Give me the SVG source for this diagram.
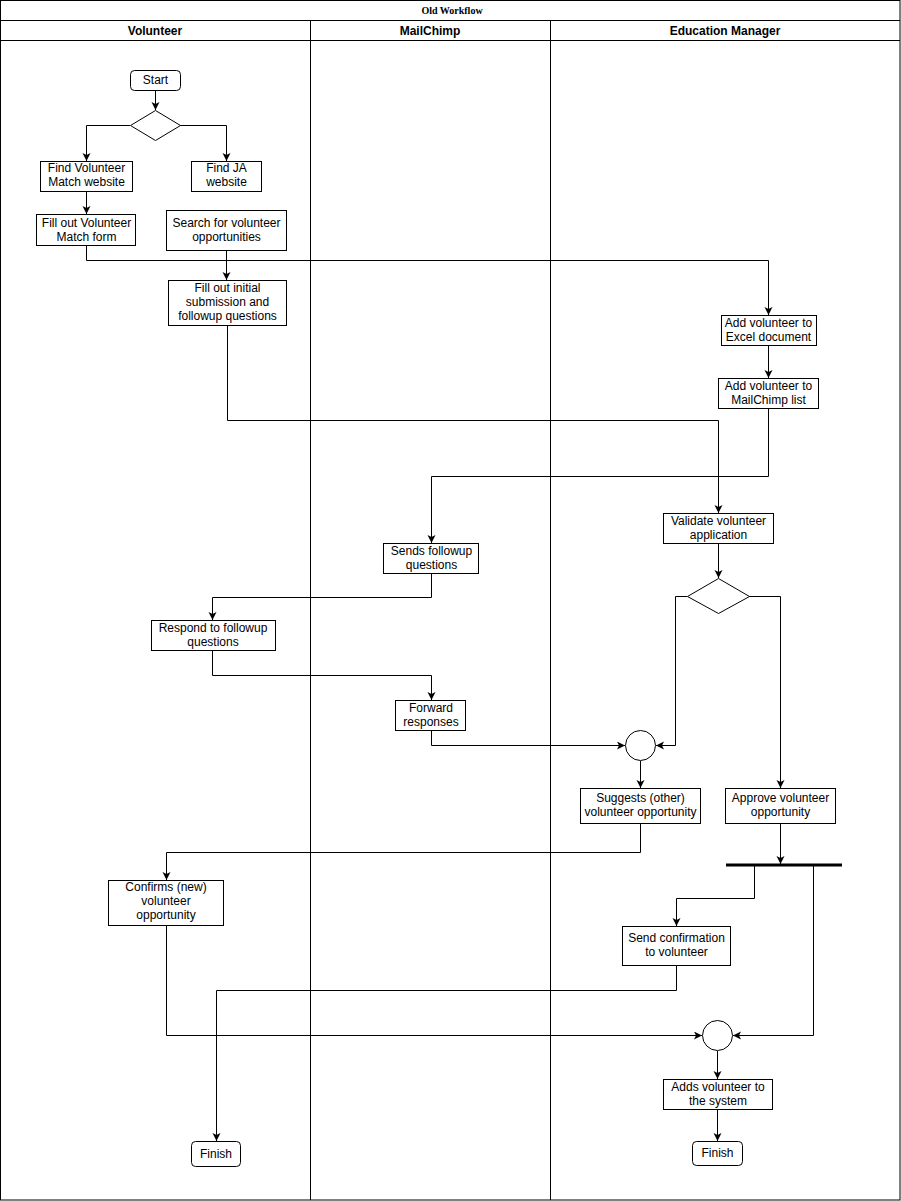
<svg xmlns="http://www.w3.org/2000/svg" width="901" height="1201" viewBox="0 0 901 1201">
<defs>
<marker id="arr" markerUnits="userSpaceOnUse" markerWidth="10" markerHeight="10" refX="8" refY="4" orient="auto">
<path d="M0,0 L8,4 L0,8 L2,4 Z" fill="#000"/>
</marker>
<style>
.box{fill:#fff;stroke:#000;stroke-width:1}
.t{font-family:"Liberation Sans",Arial,sans-serif;font-size:12px;fill:#000;text-anchor:middle}
.h{font-family:"Liberation Sans",Arial,sans-serif;font-size:12px;font-weight:bold;fill:#000;text-anchor:middle}
.ttl{font-family:"Liberation Serif","Times New Roman",serif;font-size:10px;font-weight:bold;fill:#000;text-anchor:middle}
.c{fill:none;stroke:#000;stroke-width:1;marker-end:url(#arr)}
.lane{fill:none;stroke:#000;stroke-width:1}
</style>
</defs>
<rect width="901" height="1201" fill="#fff"/>
<g id="pool">
<rect class="lane" x="0.5" y="0.5" width="899.5" height="1199.5"/>
<line class="lane" x1="0.5" y1="20.5" x2="900" y2="20.5"/>
<line class="lane" x1="0.5" y1="40.5" x2="900" y2="40.5"/>
<line class="lane" x1="310.5" y1="20.5" x2="310.5" y2="1200"/>
<line class="lane" x1="550.5" y1="20.5" x2="550.5" y2="1200"/>
<text class="ttl" x="452" y="14">Old Workflow</text>
<text class="h" x="155" y="35">Volunteer</text>
<text class="h" x="430" y="35">MailChimp</text>
<text class="h" x="725" y="35">Education Manager</text>
</g>
<g id="connectors">
<path class="c" d="M155.5,90 V110"/>
<path class="c" d="M130,125.5 H86.5 V161"/>
<path class="c" d="M180,125.5 H226.5 V161"/>
<path class="c" d="M86.5,191 V214"/>
<path class="c" d="M86.5,245 V260.5 H768.5 V315"/>
<path class="c" d="M226.5,251 V280"/>
<path class="c" d="M227.5,325 V420.5 H718.5 V513"/>
<path class="c" d="M768.5,345 V378"/>
<path class="c" d="M768.5,408 V476.5 H431.5 V543"/>
<path class="c" d="M718.5,543 V578"/>
<path class="c" d="M749,596.5 H780.5 V788"/>
<path class="c" d="M687,596.5 H675.5 V745.5 H656"/>
<path class="c" d="M431.5,573 V597.5 H212.5 V620"/>
<path class="c" d="M212.5,650 V675.5 H431.5 V700"/>
<path class="c" d="M431.5,730 V745.5 H625"/>
<path class="c" d="M640.5,761 V788"/>
<path class="c" d="M640.5,823 V852.5 H166.5 V880"/>
<path class="c" d="M780.5,823 V864"/>
<path class="c" d="M754.5,866 V898.5 H676.5 V926"/>
<path class="c" d="M813.5,866 V1035.5 H733"/>
<path class="c" d="M676.5,965 V990.5 H216.5 V1141"/>
<path class="c" d="M166.5,925 V1035.5 H702"/>
<path class="c" d="M717.5,1051 V1079"/>
<path class="c" d="M717.5,1109 V1141"/>
</g>
<g id="start"><rect class="box" x="130.5" y="70.5" width="50" height="20" rx="4"/><text class="t" x="155.5" y="84">Start</text></g>
<g id="decision1"><path class="box" d="M155.5,110.5 L180.5,125.5 L155.5,140.5 L130.5,125.5 Z"/></g>
<g id="findVM"><rect class="box" x="40.5" y="161.5" width="92" height="30"/><text class="t" x="86.5" y="172">Find Volunteer</text><text class="t" x="86.5" y="186">Match website</text></g>
<g id="findJA"><rect class="box" x="191.5" y="161.5" width="70" height="30"/><text class="t" x="226.5" y="172">Find JA</text><text class="t" x="226.5" y="186">website</text></g>
<g id="fillVM"><rect class="box" x="36.5" y="214.5" width="99" height="31"/><text class="t" x="86.5" y="227">Fill out Volunteer</text><text class="t" x="86.5" y="241">Match form</text></g>
<g id="search"><rect class="box" x="166.5" y="210.5" width="120" height="40"/><text class="t" x="226.5" y="227">Search for volunteer</text><text class="t" x="226.5" y="241">opportunities</text></g>
<g id="fillInitial"><rect class="box" x="168.5" y="280.5" width="118" height="45"/><text class="t" x="227.5" y="292">Fill out initial</text><text class="t" x="227.5" y="306">submission and</text><text class="t" x="227.5" y="320">followup questions</text></g>
<g id="excel"><rect class="box" x="721.5" y="315.5" width="95" height="30"/><text class="t" x="768.5" y="327">Add volunteer to</text><text class="t" x="768.5" y="341">Excel document</text></g>
<g id="mclist"><rect class="box" x="718.5" y="378.5" width="100" height="30"/><text class="t" x="768.5" y="390">Add volunteer to</text><text class="t" x="768.5" y="404">MailChimp list</text></g>
<g id="validate"><rect class="box" x="663.5" y="513.5" width="110" height="30"/><text class="t" x="718.5" y="525">Validate volunteer</text><text class="t" x="718.5" y="539">application</text></g>
<g id="decision2"><path class="box" d="M718.5,578.5 L749.5,596.5 L718.5,613.5 L687.5,596.5 Z"/></g>
<g id="sends"><rect class="box" x="383.5" y="543.5" width="95" height="30"/><text class="t" x="431.5" y="555">Sends followup</text><text class="t" x="431.5" y="569">questions</text></g>
<g id="respond"><rect class="box" x="151.5" y="620.5" width="124" height="30"/><text class="t" x="213" y="632">Respond to followup</text><text class="t" x="213" y="646">questions</text></g>
<g id="forward"><rect class="box" x="395.5" y="700.5" width="70" height="30"/><text class="t" x="431" y="712">Forward</text><text class="t" x="431" y="726">responses</text></g>
<g id="merge1"><circle class="box" cx="640.5" cy="745.5" r="15"/></g>
<g id="suggests"><rect class="box" x="580.5" y="788.5" width="120" height="35"/><text class="t" x="640.5" y="802">Suggests (other)</text><text class="t" x="640.5" y="816">volunteer opportunity</text></g>
<g id="approve"><rect class="box" x="725.5" y="788.5" width="110" height="35"/><text class="t" x="780.5" y="802">Approve volunteer</text><text class="t" x="780.5" y="816">opportunity</text></g>
<g id="fork"><line x1="726" y1="865" x2="842" y2="865" stroke="#000" stroke-width="3"/></g>
<g id="confirms"><rect class="box" x="108.5" y="880.5" width="115" height="45"/><text class="t" x="166" y="891">Confirms (new)</text><text class="t" x="166" y="905">volunteer</text><text class="t" x="166" y="919">opportunity</text></g>
<g id="sendconf"><rect class="box" x="622.5" y="926.5" width="108" height="39"/><text class="t" x="676.5" y="942">Send confirmation</text><text class="t" x="676.5" y="956">to volunteer</text></g>
<g id="merge2"><circle class="box" cx="717.5" cy="1035.5" r="15"/></g>
<g id="adds"><rect class="box" x="663.5" y="1079.5" width="109" height="30"/><text class="t" x="718" y="1091">Adds volunteer to</text><text class="t" x="718" y="1105">the system</text></g>
<g id="finishV"><rect class="box" x="191.5" y="1141.5" width="49" height="25" rx="4"/><text class="t" x="216" y="1158">Finish</text></g>
<g id="finishEM"><rect class="box" x="692.5" y="1141.5" width="50" height="24" rx="4"/><text class="t" x="717.5" y="1157">Finish</text></g>
</svg>
